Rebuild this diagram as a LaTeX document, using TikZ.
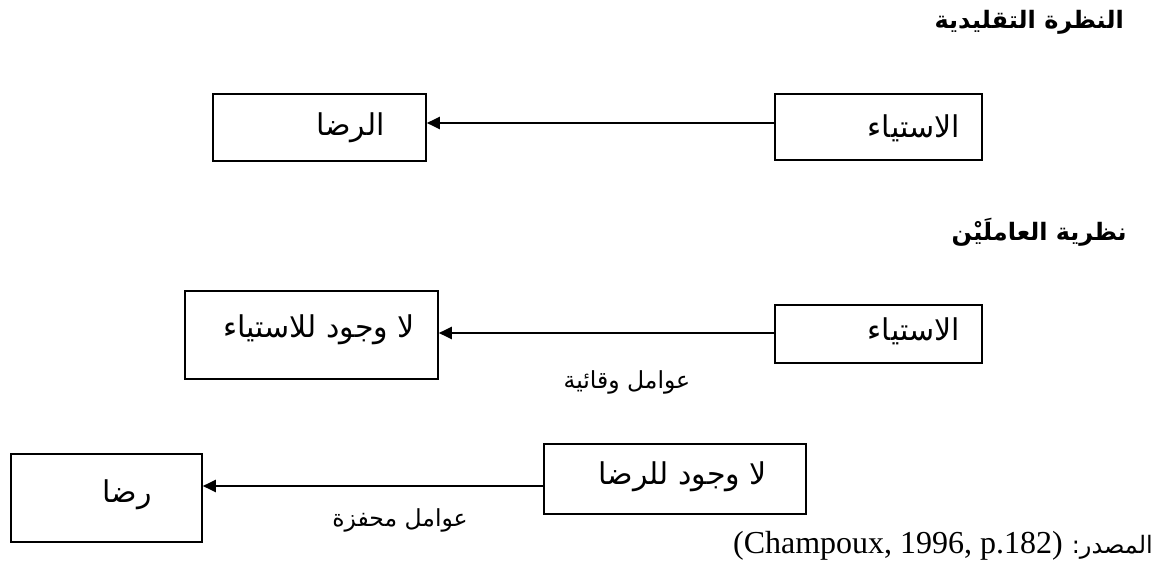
\documentclass[tikz,border=0pt]{standalone}
\usepackage{fontspec}
\usetikzlibrary{arrows.meta}
\TeXXeTstate=1
\newfontfamily\ar[Script=Arabic]{DejaVu Sans}
\newfontfamily\lat{Liberation Serif}
\tikzset{
  box/.style={draw=black, line width=1.8pt, inner sep=0pt, anchor=north west},
  btxt/.style={anchor=east, inner sep=0pt, font=\ar\fontsize{30}{34}\selectfont},
  conn/.style={line width=2.2pt, -{Triangle[length=13pt,width=12pt]}},
  title/.style={anchor=east, inner sep=0pt, font=\ar\bfseries\fontsize{24}{28}\selectfont},
  lbl/.style={inner sep=0pt, font=\ar\fontsize{23.5}{27}\selectfont}
}
\begin{document}
\begin{tikzpicture}[x=1pt,y=-1pt]
\useasboundingbox (0,0) rectangle (1162,572);
\fill[white] (0,0) rectangle (1162,572);
% titles
\node[title] (t1) at (1124,22) {\beginR النظرة التقليدية\endR};
\node[title] (t2) at (1127,232) {\beginR نظرية العاملَيْن\endR};
% row 1
\node[box, minimum width=213pt, minimum height=67pt] (b1) at (212,93) {};
\node[btxt] (b1t) at (385,128) {\beginR الرضا\endR};
\node[box, minimum width=207pt, minimum height=66pt] (a1) at (774,93) {};
\node[btxt] (a1t) at (960,128) {\beginR الاستياء\endR};
\draw[conn] (a1.west |- 0,123) -- (b1.east |- 0,123);
% row 2
\node[box, minimum width=207pt, minimum height=58pt] (a2) at (774,304) {};
\node[btxt] (a2t) at (960,331) {\beginR الاستياء\endR};
\node[box, minimum width=253pt, minimum height=88pt] (b2) at (184,290) {};
\node[btxt] (b2t) at (415,330) {\beginR لا وجود للاستياء\endR};
\draw[conn] (a2.west |- 0,333) -- (b2.east |- 0,333);
\node[lbl] (l2) at (627,382) {\beginR عوامل وقائية\endR};
% row 3
\node[box, minimum width=262pt, minimum height=70pt] (a3) at (543,443) {};
\node[btxt] (a3t) at (767,477) {\beginR لا وجود للرضا\endR};
\node[box, minimum width=191pt, minimum height=88pt] (b3) at (10,453) {};
\node[btxt] (b3t) at (152,495) {\beginR رضا\endR};
\draw[conn] (a3.west |- 0,486) -- (b3.east |- 0,486);
\node[lbl] (l3) at (400,520) {\beginR عوامل محفزة\endR};
% source
\node[anchor=base east, inner sep=0pt] (src) at (1153,553) {{\lat\fontsize{32}{35}\selectfont (Champoux, 1996, p.182)}\hspace{9pt}{\ar\fontsize{24}{27}\selectfont\beginR المصدر:\endR}};
\end{tikzpicture}
\end{document}
